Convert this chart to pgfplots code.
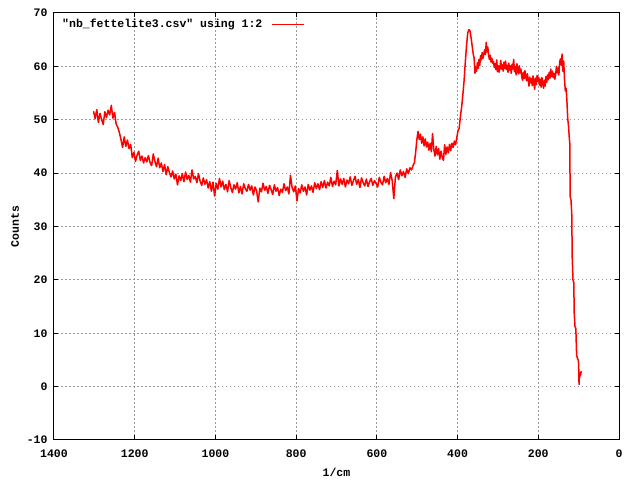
\documentclass[border=0pt]{standalone}
\usepackage{fontspec}
\setmonofont{Liberation Mono}
\usepackage{pgfplots}
\usepackage{pgfplotstable}
\pgfplotsset{compat=1.18}
\pgfplotstableread{
x y
1302 51.6
1298 50.2
1294 51.9
1290 49.5
1286 51.2
1282 50.0
1278 49.1
1274 51.5
1270 50.4
1266 51.8
1262 50.9
1258 52.7
1254 50.3
1250 51.4
1246 49.2
1242 48.6
1238 47.6
1234 46.3
1230 44.8
1226 46.8
1222 45.0
1218 46.2
1214 44.6
1210 45.4
1206 42.9
1202 43.9
1198 42.2
1194 43.4
1190 44.1
1186 42.4
1182 43.2
1178 41.9
1174 42.9
1170 42.1
1166 43.3
1162 42.0
1158 41.4
1154 43.6
1150 42.2
1146 41.2
1142 42.8
1138 41.0
1134 41.9
1130 40.3
1126 41.6
1122 39.7
1118 41.2
1114 40.1
1110 39.3
1106 40.4
1102 38.9
1098 39.8
1094 37.8
1090 39.5
1086 38.6
1082 39.9
1078 38.4
1074 40.2
1070 38.8
1066 39.6
1062 38.3
1058 40.6
1054 38.9
1050 39.4
1046 38.2
1042 39.9
1038 38.5
1034 37.7
1030 39.1
1026 37.9
1022 38.8
1018 37.2
1014 38.4
1010 36.6
1006 38.3
1002 35.7
998 38.1
994 37.0
990 39.0
986 37.4
982 38.5
978 36.9
974 37.9
970 36.5
966 38.6
962 37.3
958 36.4
954 37.8
950 37.0
946 38.2
942 36.3
938 37.5
934 36.1
930 38.0
926 37.1
922 36.6
918 37.9
914 36.8
910 37.6
906 35.9
902 37.4
898 36.7
894 34.6
890 37.2
886 36.5
882 38.1
878 36.8
874 37.5
870 36.2
866 37.7
862 36.9
858 36.0
854 37.8
850 36.6
846 37.3
842 35.8
838 37.0
834 36.4
830 38.0
826 36.7
822 37.4
818 36.1
814 39.6
810 37.3
806 36.5
802 37.6
798 34.8
794 37.1
790 36.3
786 37.8
782 36.6
778 37.4
774 35.9
770 37.9
766 36.8
762 37.6
758 36.4
754 38.2
750 37.1
746 38.0
742 36.9
738 38.4
734 37.3
730 38.6
726 37.2
722 38.3
718 37.6
714 39.2
710 37.5
706 38.5
702 37.8
698 40.5
694 37.6
690 38.9
686 37.9
682 39.0
678 37.4
674 38.7
670 38.0
666 39.3
662 37.7
658 38.6
654 39.4
650 37.9
646 38.8
642 37.3
638 39.1
634 38.2
630 37.6
626 38.9
622 37.5
618 38.4
614 39.0
610 37.7
606 38.6
602 38.1
598 37.4
594 39.2
590 38.3
586 37.8
582 39.4
578 38.2
574 39.0
570 37.9
566 40.1
562 38.6
558 35.2
554 39.3
550 40.0
546 38.8
542 40.6
538 39.5
534 40.3
530 39.2
526 40.8
522 39.9
518 41.0
514 40.6
510 41.5
507 41.9
504 43.8
501 46.2
498 47.8
495 46.3
492 47.3
489 45.6
486 46.8
483 45.1
480 46.4
477 44.9
474 45.8
471 44.3
468 45.6
465 44.0
462 47.4
459 44.5
456 43.2
453 45.0
450 43.4
447 44.6
444 42.6
441 44.1
438 43.0
435 42.4
432 45.3
429 43.5
426 44.9
423 43.8
420 45.4
417 44.2
414 45.6
411 44.8
408 46.0
405 45.3
402 46.6
399 47.9
396 48.4
393 50.6
390 52.3
387 54.6
384 57.2
381 60.6
378 63.7
375 66.2
372 66.9
369 66.6
366 65.1
363 63.3
361 62.2
359 61.6
357 58.7
355 59.9
353 59.1
351 60.7
349 59.6
347 61.3
345 60.2
343 62.0
341 61.2
339 62.6
337 61.5
335 62.4
333 63.1
331 62.2
329 64.5
327 62.7
325 63.6
323 62.0
321 61.3
319 62.1
317 60.8
315 61.5
313 60.6
311 60.9
309 59.8
307 60.5
305 59.4
303 61.2
301 59.0
299 60.1
297 58.9
295 59.7
293 61.1
291 59.5
289 60.3
287 59.1
285 60.8
283 59.6
281 61.0
279 59.4
277 60.2
275 58.9
273 60.6
271 59.3
269 60.1
267 58.7
265 60.4
263 59.5
261 61.3
259 59.0
257 60.0
255 58.4
253 60.5
251 59.2
249 58.6
247 60.1
245 58.8
243 59.5
241 58.0
239 57.4
237 58.9
235 57.7
233 59.2
231 58.1
229 57.3
227 58.6
225 57.5
223 56.3
221 58.0
219 56.9
217 57.7
215 56.4
213 58.2
211 57.1
209 55.7
207 57.8
205 56.6
203 58.3
201 57.2
199 58.0
197 56.5
195 57.6
193 56.1
191 57.9
189 56.8
187 55.9
185 57.4
183 56.3
181 58.1
179 57.0
177 58.4
175 57.5
173 58.9
171 57.8
169 59.5
167 58.1
165 59.1
163 57.9
161 58.7
159 57.6
157 58.5
155 60.0
153 58.8
151 59.7
149 58.4
147 60.9
145 61.4
143 60.2
141 62.3
139 59.1
137 61.0
135 57.4
133 55.4
131 55.9
129 53.4
127 50.2
125 48.7
123 46.4
122 45.6
121 35.6
119 35.0
117 32.2
116 24.4
114 20.0
112 19.5
111 13.8
109 11.2
107 10.9
105 5.9
103 5.3
101 5.0
100 4.2
99 0.4
98 2.6
97 1.8
96 2.5
95 2.2
94 2.8
93 2.6
}\spectrum
\newcommand{\gfont}{\fontsize{11.5bp}{13bp}\selectfont\ttfamily\bfseries}
\begin{document}
\begin{tikzpicture}[x=1bp,y=1bp]
\path[use as bounding box] (0,0) rectangle (640,480);
\begin{axis}[
  at={(54bp,40bp)}, anchor=south west,
  scale only axis, width=565bp, height=427bp,
  xmin=0, xmax=1400, ymin=-10, ymax=70, x dir=reverse,
  xtick={0,200,...,1400}, ytick={-10,0,...,70},
  /pgf/number format/assume math mode=true,
  /pgf/number format/1000 sep={},
  tick align=inside, major tick length=4.5bp,
  tick style={black, line width=1bp},
  axis line style={line width=1bp},
  grid=major,
  grid style={black!40, dash pattern=on 1.5bp off 2.5bp, line width=1bp},
  ticklabel style={font=\gfont},
  xticklabel style={yshift=-6bp},
  yticklabel style={xshift=-3bp},
  label style={font=\gfont},
  xlabel={1/cm}, ylabel={Counts},
  xlabel style={at={(axis description cs:0.5,-0.0749)}, anchor=center},
  ylabel style={at={(axis description cs:-0.069,0.5)}, anchor=center},
  legend plot pos=right,
  legend style={at={(axis description cs:0.0142,0.974)}, anchor=west,
    draw=none, fill=none, inner sep=0pt, font=\gfont, column sep=9bp,
    nodes={inner sep=0pt}},
  legend image code/.code={\draw[#1, line width=1bp] (0bp,0bp) -- (32bp,0bp);},
]
\addplot[red, line width=1.5bp, line join=round] table[x=x, y=y] {\spectrum};
\addlegendentry{"nb\_fettelite3.csv" using 1:2}
\end{axis}
\end{tikzpicture}
\end{document}
